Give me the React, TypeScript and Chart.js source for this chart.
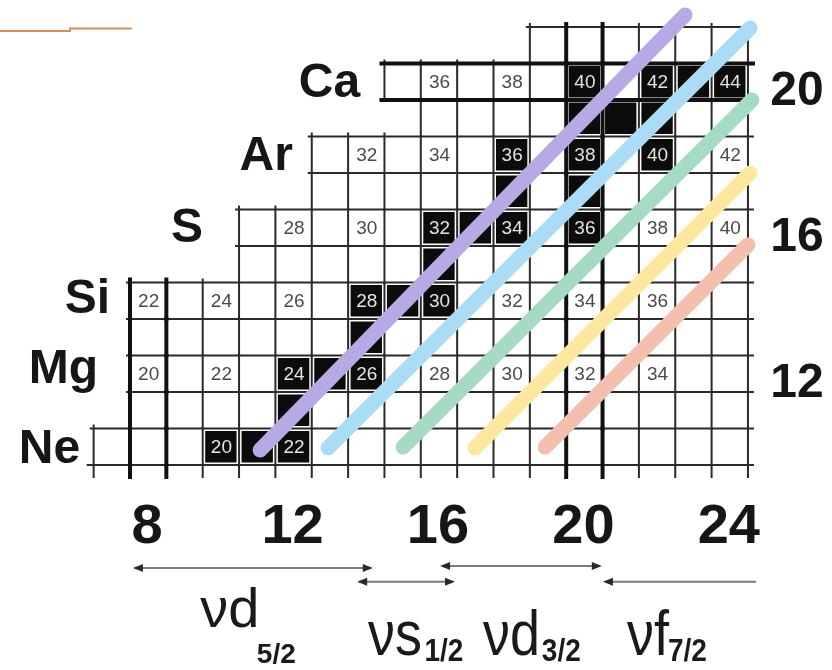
import React, { useEffect, useRef } from "react";
import { Chart, registerables } from "chart.js";

Chart.register(...registerables);

// ---------- DATA ----------
// Rows of the nuclide chart: proton number Z and the neutron range drawn in each row
const ROW_Z = [10, 11, 12, 13, 14, 15, 16, 17, 18, 19, 20, 21];
const ROW_FIRST_N = [7, 8, 8, 8, 8, 11, 11, 13, 13, 16, 15, 19];
const ROW_LAST_N = [24, 24, 24, 24, 24, 24, 24, 24, 24, 24, 24, 24];

// Stable nuclides (black cells)
const STABLE_Z = [10, 10, 10, 11, 12, 12, 12, 13, 14, 14, 14, 15, 16, 16, 16, 16, 17, 17, 18, 18, 18, 19, 19, 19, 20, 20, 20, 20];
const STABLE_N = [10, 11, 12, 12, 12, 13, 14, 14, 14, 15, 16, 16, 16, 17, 18, 20, 18, 20, 18, 20, 22, 20, 21, 22, 20, 22, 23, 24];

// Mass numbers printed in cells
const MASS_Z = [10, 10, 12, 12, 12, 12, 12, 12, 12, 12, 14, 14, 14, 14, 14, 14, 14, 14, 16, 16, 16, 16, 16, 16, 16, 18, 18, 18, 18, 18, 18, 20, 20, 20, 20, 20];
const MASS_N = [10, 12, 8, 10, 12, 14, 16, 18, 20, 22, 8, 10, 12, 14, 16, 18, 20, 22, 12, 14, 16, 18, 20, 22, 24, 14, 16, 18, 20, 22, 24, 16, 18, 20, 22, 24];
const MASS_A = [20, 22, 20, 22, 24, 26, 28, 30, 32, 34, 22, 24, 26, 28, 30, 32, 34, 36, 28, 30, 32, 34, 36, 38, 40, 32, 34, 36, 38, 40, 42, 36, 38, 40, 42, 44];

// Element names
const ELEMENT_NAMES = ["Ne", "Mg", "Si", "S", "Ar", "Ca"];
const ELEMENT_Z = [10, 12, 14, 16, 18, 20];

// Magic numbers (thick lines)
const MAGIC_N = [8, 20];
const MAGIC_Z = [20];

// Tick labels
const N_TICKS = [8, 12, 16, 20, 24];
const Z_TICKS = [12, 16, 20];

// Diagonal bands (constant N - Z), endpoints in (N, Z)
const BAND_N_START = [11.08, 12.95, 15.01, 16.99, 18.92];
const BAND_Z_START = [9.91, 9.97, 9.99, 9.97, 9.99];
const BAND_N_END = [22.77, 24.56, 24.61, 24.56, 24.5];
const BAND_Z_END = [21.83, 21.47, 19.5, 17.5, 15.53];

// Neutron orbital ranges shown below the N axis
const ORBITAL_NAMES = ["\u03bdd", "\u03bds", "\u03bdd", "\u03bdf"];
const ORBITAL_SUBS = ["5/2", "1/2", "3/2", "7/2"];
const ORBITAL_FROM_N = [7.58, 13.75, 16.03, 20.51];
const ORBITAL_TO_N = [14.18, 16.44, 20.48, 24.78];

// Decorative orange rule at the top left (N, Z), listed right to left
const DECOR_N = [7.55, 5.85, 5.85, 3.9];
const DECOR_Z = [21.46, 21.46, 21.39, 21.39];

// ---------- LAYOUT / STYLE ----------
const FONT = '"Liberation Sans", Arial, Helvetica, sans-serif';
const BAND_COLORS = ["#b6a9e4", "#aadcf6", "#a4dcc3", "#fce89f", "#f5bfad"];
const ELEMENT_LABEL_POS = [
  [6.13, 9.55],
  [6.62, 11.75],
  [6.95, 13.66],
  [9.51, 15.61],
  [11.98, 17.58],
  [13.83, 19.58],
];
const ARROW_Z = [6.68, 6.3, 6.73, 6.3];
const ARROW_HEADS = [
  [true, true],
  [true, true],
  [true, true],
  [true, false],
];
const ORBITAL_TEXT_POS = [
  { n: 9.43, z: 5.06, sn: 10.99, sz: 4.08, big: false },
  { n: 14.05, z: 4.3, sn: 15.6, sz: 4.13, big: true },
  { n: 17.21, z: 4.3, sn: 18.83, sz: 4.13, big: true },
  { n: 21.17, z: 4.3, sn: 22.3, sz: 4.13, big: true },
];

const W = 832;
const H = 670;

function rowIndex(z: number) {
  return ROW_Z.indexOf(z);
}
function hasCell(z: number, n: number) {
  const i = rowIndex(z);
  if (i < 0) return false;
  return n >= ROW_FIRST_N[i] && n <= ROW_LAST_N[i];
}
function isStable(z: number, n: number) {
  for (let i = 0; i < STABLE_Z.length; i++) if (STABLE_Z[i] === z && STABLE_N[i] === n) return true;
  return false;
}

const gridPlugin = {
  id: "nuclideGrid",
  beforeDatasetsDraw(chart: any) {
    const { ctx } = chart;
    const xs = chart.scales.x;
    const ys = chart.scales.y;
    const px = (n: number) => xs.getPixelForValue(n);
    const py = (z: number) => ys.getPixelForValue(z);
    ctx.save();

    // black cells
    ctx.fillStyle = "#0c0c0c";
    STABLE_Z.forEach((z, i) => {
      const n = STABLE_N[i];
      const x0 = px(n - 0.5);
      const x1 = px(n + 0.5);
      const y0 = py(z + 0.5);
      const y1 = py(z - 0.5);
      ctx.fillRect(x0 + 2.5, y0 + 2.5, x1 - x0 - 5, y1 - y0 - 5);
    });

    const minZ = ROW_Z[0];
    const maxZ = ROW_Z[ROW_Z.length - 1];

    const drawH = (thick: boolean) => {
      for (let b = minZ - 0.5; b <= maxZ + 0.5; b += 1) {
        const zl = b - 0.5;
        const zu = b + 0.5;
        const il = rowIndex(zl);
        const iu = rowIndex(zu);
        const firsts: number[] = [];
        const lasts: number[] = [];
        if (il >= 0) {
          firsts.push(ROW_FIRST_N[il]);
          lasts.push(ROW_LAST_N[il]);
        }
        if (iu >= 0) {
          firsts.push(ROW_FIRST_N[iu]);
          lasts.push(ROW_LAST_N[iu]);
        }
        if (!firsts.length) continue;
        const isThick = MAGIC_Z.some((m) => Math.abs(b - m) === 0.5);
        if (isThick !== thick) continue;
        const x0 = px(Math.min(...firsts) - 0.5) - (b === minZ - 0.5 ? 6 : 3);
        const x1 = px(Math.max(...lasts) + 0.5) + 5;
        ctx.beginPath();
        ctx.moveTo(x0, py(b));
        ctx.lineTo(x1, py(b));
        ctx.stroke();
      }
    };

    const drawV = (thick: boolean) => {
      ROW_Z.forEach((z, i) => {
        for (let k = ROW_FIRST_N[i] - 1; k <= ROW_LAST_N[i]; k++) {
          const b = k + 0.5;
          const isThick = MAGIC_N.some((m) => Math.abs(b - m) === 0.5 && hasCell(z, m));
          if (isThick !== thick) continue;
          let yTop = py(z + 0.5);
          let yBot = py(z - 0.5);
          const aboveHas = hasCell(z + 1, k) || hasCell(z + 1, k + 1);
          if (!aboveHas) yTop -= 3;
          if (z === minZ) yBot += 12;
          ctx.beginPath();
          ctx.moveTo(px(b), yTop);
          ctx.lineTo(px(b), yBot);
          ctx.stroke();
        }
      });
    };

    ctx.lineCap = "square";
    ctx.strokeStyle = "#2a2a2a";
    ctx.lineWidth = 2;
    drawH(false);
    drawV(false);
    ctx.strokeStyle = "#111111";
    ctx.lineWidth = 4;
    drawH(true);
    drawV(true);

    // mass numbers
    ctx.font = `19px ${FONT}`;
    ctx.textAlign = "center";
    ctx.textBaseline = "middle";
    MASS_A.forEach((a, i) => {
      const z = MASS_Z[i];
      const n = MASS_N[i];
      ctx.fillStyle = isStable(z, n) ? "#e2e2e2" : "#4a4a4a";
      ctx.fillText(String(a), px(n) + 0.5, py(z) + 1.5);
    });
    ctx.restore();
  },
  afterDraw(chart: any) {
    const { ctx } = chart;
    const xs = chart.scales.x;
    const ys = chart.scales.y;
    const px = (n: number) => xs.getPixelForValue(n);
    const py = (z: number) => ys.getPixelForValue(z);
    ctx.save();
    ctx.fillStyle = "#161616";
    ctx.textBaseline = "alphabetic";

    // element names
    ctx.font = `bold 48px ${FONT}`;
    ctx.textAlign = "right";
    ELEMENT_NAMES.forEach((name, i) => {
      const [n, z] = ELEMENT_LABEL_POS[i];
      ctx.fillText(name, px(n), py(z));
    });

    // N tick labels
    ctx.font = `bold 56px ${FONT}`;
    ctx.textAlign = "center";
    N_TICKS.forEach((n) => ctx.fillText(String(n), px(n) - 1, py(7.36)));

    // Z tick labels
    ctx.font = `bold 48px ${FONT}`;
    Z_TICKS.forEach((z) => ctx.fillText(String(z), px(25.85), py(z - 0.63)));

    // arrows
    ORBITAL_FROM_N.forEach((from, i) => {
      const x0 = px(from);
      const x1 = px(ORBITAL_TO_N[i]);
      const yy = py(ARROW_Z[i]);
      ctx.strokeStyle = "#7a7a7a";
      ctx.lineWidth = 2;
      ctx.beginPath();
      ctx.moveTo(x0 + 2, yy);
      ctx.lineTo(x1 - 2, yy);
      ctx.stroke();
      ctx.fillStyle = "#2a2a2a";
      const [lh, rh] = ARROW_HEADS[i];
      if (lh) {
        ctx.beginPath();
        ctx.moveTo(x0, yy);
        ctx.lineTo(x0 + 10, yy - 4);
        ctx.lineTo(x0 + 10, yy + 4);
        ctx.closePath();
        ctx.fill();
      }
      if (rh) {
        ctx.beginPath();
        ctx.moveTo(x1, yy);
        ctx.lineTo(x1 - 10, yy - 4);
        ctx.lineTo(x1 - 10, yy + 4);
        ctx.closePath();
        ctx.fill();
      }
    });

    // orbital names
    ctx.fillStyle = "#1a1a1a";
    ctx.textAlign = "left";
    ORBITAL_NAMES.forEach((name, i) => {
      const p = ORBITAL_TEXT_POS[i];
      ctx.save();
      ctx.translate(px(p.n), py(p.z));
      if (p.big) ctx.scale(1, 1.15);
      ctx.font = `${p.big ? 54 : 56}px ${FONT}`;
      ctx.fillText(name, 0, 0);
      ctx.restore();
      ctx.save();
      ctx.translate(px(p.sn), py(p.sz));
      if (p.big) ctx.scale(1, 1.15);
      ctx.font = `bold 28px ${FONT}`;
      ctx.fillText(ORBITAL_SUBS[i], 0, 0);
      ctx.restore();
    });
    ctx.restore();
  },
};

export default function App() {
  const ref = useRef<HTMLCanvasElement | null>(null);
  useEffect(() => {
    if (!ref.current) return;
    const bands = BAND_COLORS.map((c, i) => ({
      label: "band" + i,
      data: [
        { x: BAND_N_START[i], y: BAND_Z_START[i] },
        { x: BAND_N_END[i], y: BAND_Z_END[i] },
      ],
      showLine: true,
      borderColor: c,
      backgroundColor: c,
      borderWidth: 15,
      borderCapStyle: "round",
      pointRadius: 0,
      clip: false,
    }));
    const decor = {
      label: "decor",
      data: DECOR_N.map((n, i) => ({ x: n, y: DECOR_Z[i] })),
      showLine: true,
      borderColor: "#df8a4e",
      borderWidth: 2,
      pointRadius: 0,
      clip: false,
    };
    const chart = new Chart(ref.current, {
      type: "scatter",
      data: { datasets: [...bands, decor] as any },
      options: {
        responsive: false,
        animation: false,
        devicePixelRatio: 1,
        layout: { padding: { left: 75.475, right: 65.875, top: 8.75, bottom: 150.25 } },
        plugins: { legend: { display: false }, tooltip: { enabled: false }, title: { display: false } },
        events: [],
        scales: {
          x: { type: "linear", min: 6, max: 25, display: false },
          y: { type: "linear", min: 8, max: 22, display: false },
        },
      },
      plugins: [gridPlugin],
    });
    return () => chart.destroy();
  }, []);
  return (
    <div style={{ position: "fixed", left: 0, top: 0, width: W, height: H, background: "#ffffff" }}>
      <canvas ref={ref} width={W} height={H} style={{ display: "block", width: W, height: H }} />
    </div>
  );
}
